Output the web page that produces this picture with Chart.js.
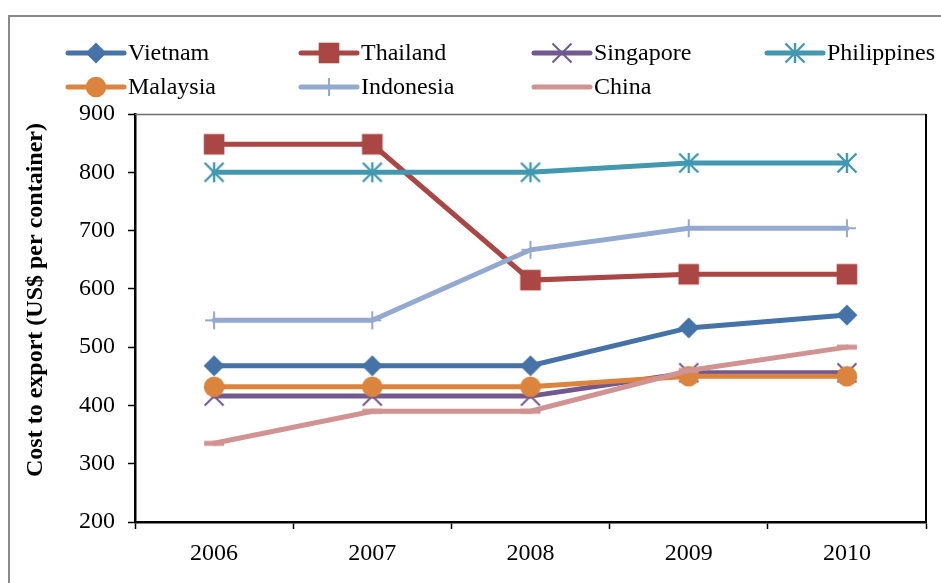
<!DOCTYPE html>
<html>
<head>
<meta charset="utf-8">
<script src="https://cdn.jsdelivr.net/npm/chart.js@4/dist/chart.umd.min.js"></script>
<style>
  html, body { margin: 0; padding: 0; background: #fff; }
  #wrap { width: 941px; height: 583px; }
</style>
</head>
<body>
<div id="wrap"><canvas id="c" width="941" height="583"></canvas></div>
<script>
// Cost to export, US$ per container
const years = ['2006', '2007', '2008', '2009', '2010'];
const countries = ['Vietnam', 'Thailand', 'Singapore', 'Philippines', 'Malaysia', 'Indonesia', 'China'];
const vietnam     = [468, 468, 468, 533, 555];
const thailand    = [848, 848, 615, 625, 625];
const singapore   = [416, 416, 416, 456, 456];
const philippines = [800, 800, 800, 816, 816];
const malaysia    = [432, 432, 432, 450, 450];
const indonesia   = [546, 546, 667, 704, 704];
const china       = [335, 390, 390, 460, 500];
const yMin = 200, yMax = 900, yStep = 100;
const yTitle = 'Cost to export (US$ per container)';

const FONT = "'Liberation Serif', 'Times New Roman', serif";

// Marker glyphs painted once onto small canvases and reused for chart and legend
function markerCanvas(kind, color) {
  const c = document.createElement('canvas');
  c.width = 26; c.height = 26;
  const g = c.getContext('2d');
  const m = 13;
  g.fillStyle = color; g.strokeStyle = color;
  g.beginPath();
  switch (kind) {
    case 'diamond':
      g.moveTo(m, m - 10.5); g.lineTo(m + 10.5, m); g.lineTo(m, m + 10.5); g.lineTo(m - 10.5, m);
      g.closePath(); g.fill(); break;
    case 'square':
      g.fillRect(m - 10.3, m - 10.3, 20.6, 20.6); break;
    case 'circle':
      g.arc(m, m, 10.3, 0, Math.PI * 2); g.fill(); break;
    case 'x':
      g.lineWidth = 2;
      g.moveTo(m - 9.5, m - 9.5); g.lineTo(m + 9.5, m + 9.5);
      g.moveTo(m + 9.5, m - 9.5); g.lineTo(m - 9.5, m + 9.5);
      g.stroke(); break;
    case 'star':
      g.lineWidth = 2.4;
      g.moveTo(m - 9.5, m - 9.5); g.lineTo(m + 9.5, m + 9.5);
      g.moveTo(m + 9.5, m - 9.5); g.lineTo(m - 9.5, m + 9.5);
      g.moveTo(m, m - 10); g.lineTo(m, m + 10);
      g.stroke(); break;
    case 'plus':
      g.lineWidth = 2;
      g.moveTo(m, m - 9); g.lineTo(m, m + 9);
      g.moveTo(m - 9, m); g.lineTo(m + 9, m);
      g.stroke(); break;
    case 'dash':
      g.lineWidth = 5;
      g.moveTo(m - 10, m); g.lineTo(m + 10, m);
      g.stroke(); break;
  }
  return c;
}

const seriesValues = [vietnam, thailand, singapore, philippines, malaysia, indonesia, china];
const seriesColors = ['#4572A7', '#AA4643', '#71588F', '#4198AF', '#DB843D', '#93A9CF', '#D19392'];
const seriesMarks  = ['diamond', 'square', 'x', 'star', 'circle', 'plus', 'dash'];
const markers = seriesMarks.map((k, i) => markerCanvas(k, seriesColors[i]));

const datasets = countries.map((name, i) => ({
  label: name,
  data: seriesValues[i],
  borderColor: seriesColors[i],
  backgroundColor: seriesColors[i],
  borderWidth: 5,
  borderCapStyle: 'round',
  tension: 0,
  pointStyle: markers[i],
  pointRadius: 10,
  pointHoverRadius: 10,
  order: countries.length - i   // later series are painted on top
}));

// Frame, plot box, axis title and two-row legend
const decorations = {
  id: 'decorations',
  beforeDraw(chart) {
    const ctx = chart.ctx;
    ctx.save();
    ctx.fillStyle = '#fff';
    ctx.fillRect(0, 0, chart.width, chart.height);
    ctx.strokeStyle = '#8a8a8a';
    ctx.lineWidth = 2;
    ctx.strokeRect(9, 16, 1200, 1200);
    ctx.restore();
  },
  afterDraw(chart) {
    const ctx = chart.ctx;
    const a = chart.chartArea;
    ctx.save();
    // plot area top and right edges
    ctx.strokeStyle = '#6e6e6e';
    ctx.lineWidth = 1.5;
    ctx.beginPath(); ctx.moveTo(a.left, a.top + 0.5); ctx.lineTo(a.right, a.top + 0.5); ctx.stroke();
    ctx.strokeStyle = '#000';
    ctx.lineWidth = 2;
    ctx.beginPath(); ctx.moveTo(a.right, a.top); ctx.lineTo(a.right, a.bottom); ctx.stroke();

    // y axis title
    ctx.fillStyle = '#000';
    ctx.font = 'bold 24px ' + FONT;
    ctx.textAlign = 'center';
    ctx.textBaseline = 'middle';
    ctx.translate(36, 300);
    ctx.rotate(-Math.PI / 2);
    ctx.fillText(yTitle, 0, 0);
    ctx.restore();

    // legend
    ctx.save();
    ctx.font = '24px ' + FONT;
    ctx.textBaseline = 'middle';
    ctx.textAlign = 'left';
    countries.forEach((name, i) => {
      const col = i % 4, row = Math.floor(i / 4);
      const x = 68 + col * 233;
      const y = 53 + row * 34;
      ctx.strokeStyle = seriesColors[i];
      ctx.lineWidth = 5;
      ctx.lineCap = 'round';
      ctx.beginPath(); ctx.moveTo(x, y); ctx.lineTo(x + 56, y); ctx.stroke();
      if (seriesMarks[i] !== 'dash') {
        const mk = markers[i];
        ctx.drawImage(mk, x + 28 - mk.width / 2, y - mk.height / 2);
      }
      ctx.fillStyle = '#000';
      ctx.fillText(name, x + 60, y + 1);
    });
    ctx.restore();
  }
};

new Chart(document.getElementById('c'), {
  type: 'line',
  data: { labels: years, datasets },
  plugins: [decorations],
  options: {
    responsive: false,
    animation: false,
    events: [],
    layout: { padding: { top: 114, right: 11, left: 0, bottom: 0 } },
    plugins: { legend: { display: false }, tooltip: { enabled: false } },
    scales: {
      x: {
        type: 'category',
        offset: true,
        afterFit(s) { s.height = 61; },
        grid: { offset: true, drawOnChartArea: false, tickLength: 7, tickColor: '#000', tickWidth: 1.5 },
        border: { color: '#000', width: 2.5 },
        ticks: { color: '#000', font: { family: FONT, size: 24 }, padding: 10, maxRotation: 0 }
      },
      y: {
        min: yMin, max: yMax,
        afterFit(s) { s.width = 135; },
        grid: { drawOnChartArea: false, tickLength: 7, tickColor: '#000', tickWidth: 1.5 },
        border: { color: '#000', width: 2.5 },
        ticks: { stepSize: yStep, color: '#000', font: { family: FONT, size: 24 }, padding: 13 }
      }
    }
  }
});
</script>
</body>
</html>
